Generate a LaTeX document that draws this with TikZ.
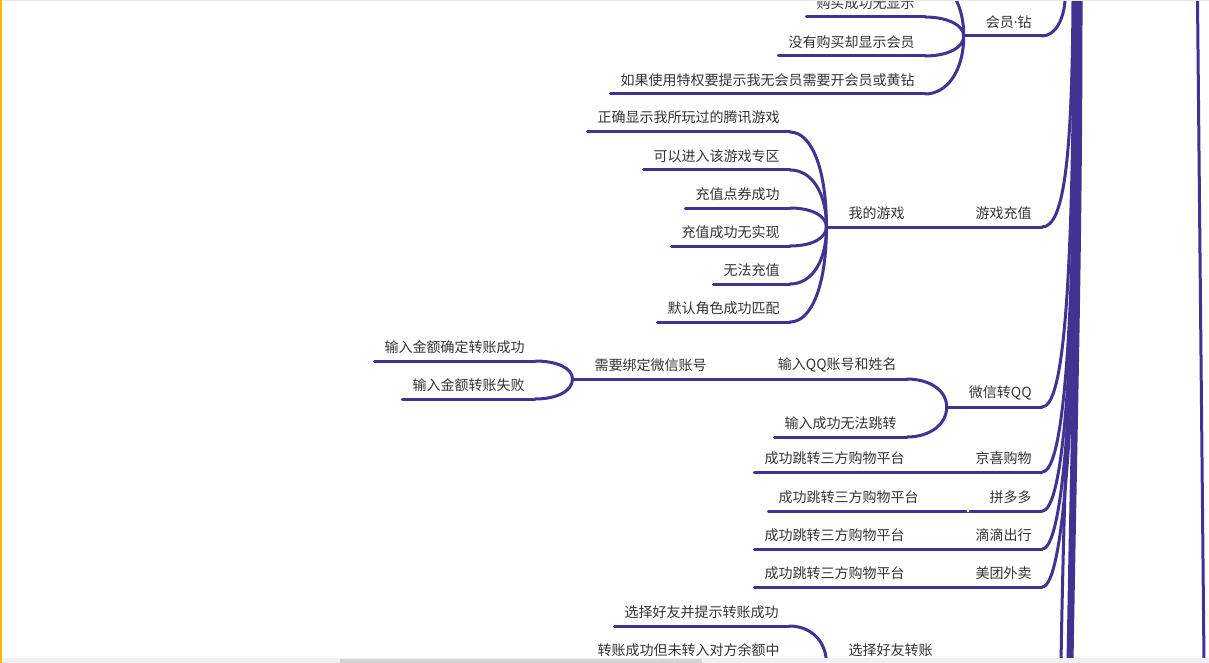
\documentclass[tikz,border=0pt]{standalone}
\usepackage{fontspec}
\newfontfamily\cjk{Noto Sans CJK SC}
\newfontfamily\latn{Noto Sans}
\definecolor{linec}{RGB}{66,50,146}
\definecolor{textc}{RGB}{51,51,51}
\definecolor{edgec}{RGB}{245,183,0}
\begin{document}
\begin{tikzpicture}[x=0.75pt, y=-0.75pt,
    branch/.style={draw=linec, line width=2.25pt, line cap=round},
    topic/.style={anchor=south east, inner xsep=7.5pt, inner ysep=0pt, minimum height=21pt,
        text=textc, font=\cjk\fontsize{10.5}{12}\selectfont,
        append after command={(\tikzlastnode.south west) edge[branch] (\tikzlastnode.south east)}}]
    \useasboundingbox (0,0) rectangle (1209,663);
    \clip (0,0) rectangle (1209,663);

    \node[topic] (vip) at (1042,36) {会员{\latn·}钻};
    \node[topic] (vip1) at (925,17) {购买成功无显示};
    \node[topic] (vip2) at (925,56) {没有购买却显示会员};
    \node[topic] (vip3) at (925,94) {如果使用特权要提示我无会员需要开会员或黄钻};
    \coordinate (vip0) at (925,-22);
    \coordinate (vj) at ([xshift=-9pt]vip.south west);
    \draw[branch] (vj) -- (vip.south west);
    \draw[branch] (vip0) .. controls +(22,0) and +(0,-35) .. (vj);
    \foreach \c/\d in {vip1/-11, vip2/12, vip3/35}
        \draw[branch] (\c.south east) .. controls +(22,0) and +(0,\d) .. (vj);

    \node[topic] (game) at (1042,227) {游戏充值};
    \node[topic] (mygame) at (915,227) {我的游戏};
    \node[topic] (g1) at (790,132) {正确显示我所玩过的腾讯游戏};
    \node[topic] (g2) at (790,170) {可以进入该游戏专区};
    \node[topic] (g3) at (790,208) {充值点券成功};
    \node[topic] (g4) at (790,246) {充值成功无实现};
    \node[topic] (g5) at (790,284) {无法充值};
    \node[topic] (g6) at (790,322) {默认角色成功匹配};
    \coordinate (mj) at ([xshift=-9pt]mygame.south west);
    \draw[branch] (mj) -- (mygame.south west);
    \draw[branch] (mygame.south east) -- (game.south west);
    \foreach \c/\d in {g1/-57, g2/-34, g3/-11, g4/11, g5/34, g6/57}
        \draw[branch] (\c.south east) .. controls +(22,0) and +(0,\d) .. (mj);

    \node[topic] (wxqq) at (1042,407) {微信转QQ};
    \node[topic] (q1) at (907,379) {输入QQ账号和姓名};
    \node[topic] (q2) at (907,437) {输入成功无法跳转};
    \node[topic] (bind) at (717,379) {需要绑定微信账号};
    \node[topic] (b1) at (535,361) {输入金额确定转账成功};
    \node[topic] (b2) at (535,399) {输入金额转账失败};
    \coordinate (qj) at ([xshift=-9pt]wxqq.south west);
    \coordinate (bj) at ([xshift=-9pt]bind.south west);
    \draw[branch] (qj) -- (wxqq.south west);
    \draw[branch] (bj) -- (bind.south west);
    \draw[branch] (bind.south east) -- (q1.south west);
    \draw[branch] (q1.south east) .. controls +(22,0) and +(0,-17) .. (qj);
    \draw[branch] (q2.south east) .. controls +(22,0) and +(0,18) .. (qj);
    \draw[branch] (b1.south east) .. controls +(22,0) and +(0,-11) .. (bj);
    \draw[branch] (b2.south east) .. controls +(22,0) and +(0,12) .. (bj);

    \node[topic] (jx) at (1042,472) {京喜购物};
    \node[topic] (jx1) at (915,472) {成功跳转三方购物平台};
    \node[topic] (pdd) at (1042,511) {拼多多};
    \node[topic] (pdd1) at (929,511) {成功跳转三方购物平台};
    \node[topic] (didi) at (1042,549) {滴滴出行};
    \node[topic] (didi1) at (915,549) {成功跳转三方购物平台};
    \node[topic] (mt) at (1042,587) {美团外卖};
    \node[topic] (mt1) at (915,587) {成功跳转三方购物平台};
    \foreach \n in {jx, pdd, didi, mt}
        \draw[branch] (\n1.south east) -- (\n.south west);
    \fill[white] (968,511) circle (1pt);

    \node[topic] (friend) at (943,664) {选择好友转账};
    \node[topic] (f1) at (789,626) {选择好友并提示转账成功};
    \node[topic] (f2) at (790,664) {转账成功但未转入对方余额中};
    \coordinate (fj) at ([xshift=-9pt]friend.south west);
    \draw[branch] (fj) -- (friend.south west);
    \draw[branch] (f1.south east) .. controls +(22,0) and +(0,-23) .. (fj);
    \draw[branch] (f2.south east) -- (fj);

    \coordinate (topvip) at (1065,0);
    \draw[branch] (vip.south east) .. controls +(14,0) and +(-1,18) .. (topvip);
    \foreach \n/\d/\t in {game/159/1073, wxqq/285/1074, jx/330/1076, pdd/358/1077, didi/384/1078, mt/411/1079} {
        \coordinate (top\n) at (\t,0);
        \draw[branch] (\n.south east) .. controls +(22,0) and +(-1,\d) .. (top\n);
    }
    \foreach \i/\a/\b in {1/1076/1061, 2/1078/1068, 3/1080/1070, 4/1081/1072} {
        \coordinate (up\i) at (\a,0);
        \coordinate (dn\i) at (\b,663);
        \draw[branch] (up\i) .. controls +(0,250) and +(4,-250) .. (dn\i);
    }
    \coordinate (rt) at (1197.5,0);
    \coordinate (rb) at (1204,663);
    \draw[branch] (rt) -- (rb);

    \fill[black!6] (0,657.5) rectangle (1209,663);
    \fill[black!17] (340,658.5) rectangle (702,663);
    \fill[black!9] (0,0) rectangle (1209,1);
    \fill[edgec] (0,0) rectangle (1.5,663);
\end{tikzpicture}
\end{document}
